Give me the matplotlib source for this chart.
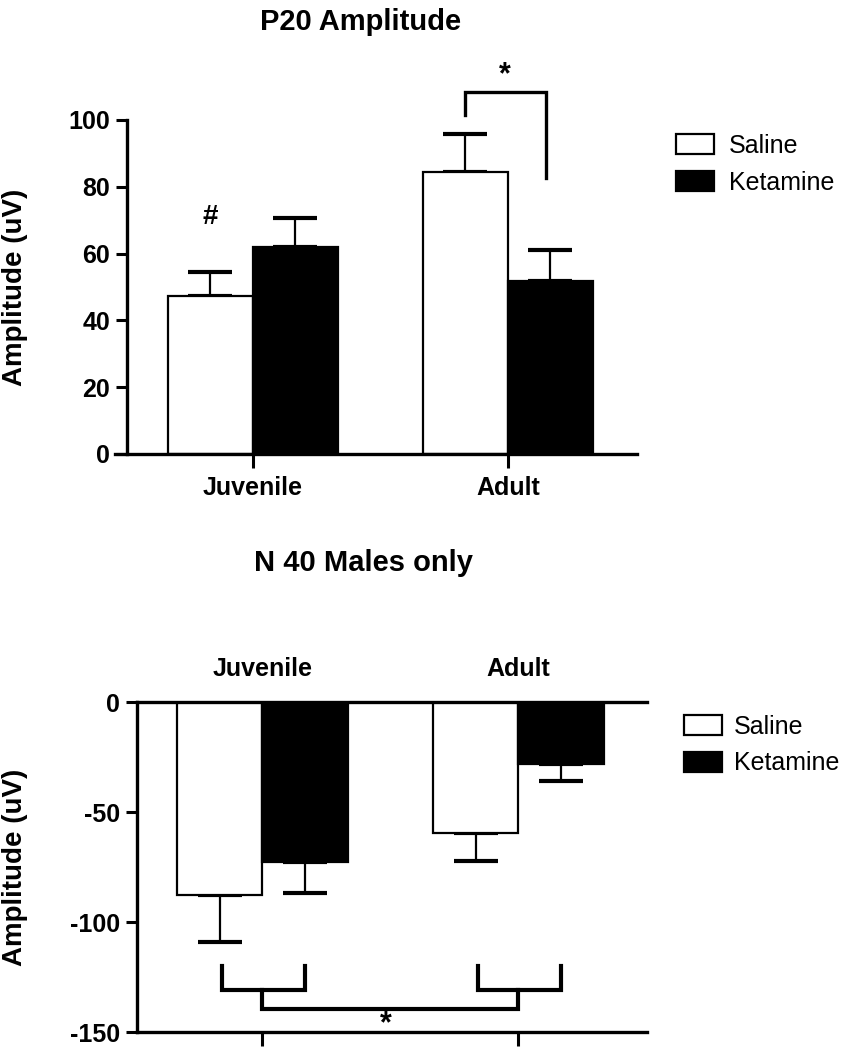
import matplotlib
matplotlib.use("Agg")
import matplotlib.pyplot as plt
from matplotlib.patches import Patch

plt.rcParams['font.family'] = ['Liberation Sans', 'DejaVu Sans']
plt.rcParams['axes.unicode_minus'] = False

# ---- data ----
groups = ["Juvenile", "Adult"]
treatments = ["Saline", "Ketamine"]
p20_mean = {"Saline": [47.3, 84.3], "Ketamine": [62.1, 51.8]}
p20_err = {"Saline": [7.3, 11.4], "Ketamine": [8.5, 9.3]}
n40_mean = {"Saline": [-87.5, -59.4], "Ketamine": [-72.9, -28.2]}
n40_err = {"Saline": [21.4, 12.8], "Ketamine": [13.8, 7.8]}
p20_yticks = [0, 20, 40, 60, 80, 100]
n40_yticks = [0, -50, -100, -150]

group_pos = [0, 3]
offsets = {"Saline": -0.5, "Ketamine": 0.5}
faces = {"Saline": "white", "Ketamine": "black"}

W, H = 847, 1050
fig = plt.figure(figsize=(W / 100, H / 100), dpi=100)

def fx(px):
    return px / W

def fy(py):
    return 1 - py / H

BOLD = dict(fontweight='bold')

def draw_bars(ax, means, errs, up):
    for t in treatments:
        xs = [g + offsets[t] for g in group_pos]
        ax.bar(xs, means[t], width=1.0, color=faces[t], edgecolor='black',
               linewidth=1.6, zorder=2)
        if up:
            yerr = [[0, 0], errs[t]]
        else:
            yerr = [errs[t], [0, 0]]
        ax.errorbar(xs, means[t], yerr=yerr, fmt='none', ecolor='black',
                    elinewidth=1.6, capsize=16, capthick=3, zorder=1)

# ================= Top chart =================
ax1 = fig.add_axes([fx(115), fy(454), fx(637) - fx(115), (454 - 120) / H])
draw_bars(ax1, p20_mean, p20_err, up=True)
ax1.set_xlim(-1.62, 4.52)
ax1.set_ylim(0, 100)
ax1.spines['top'].set_visible(False)
ax1.spines['right'].set_visible(False)
ax1.spines['left'].set_position(('data', -1.48))
for s in ['left', 'bottom']:
    ax1.spines[s].set_linewidth(2.4)
ax1.set_yticks(p20_yticks)
ax1.set_xticks(group_pos)
ax1.set_xticklabels(groups)
ax1.tick_params(axis='both', direction='out', length=8, width=2.2,
                labelsize=18, pad=4)
ax1.tick_params(axis='x', length=10, pad=6)
for lab in ax1.get_xticklabels() + ax1.get_yticklabels():
    lab.set_fontweight('bold')
ax1.set_ylabel("Amplitude (uV)", fontsize=20, fontweight='bold')
ax1.yaxis.set_label_coords((28 - 115) / (637 - 115), 0.5)

# significance marks
ax1.text(-0.5, 71, "#", ha='center', va='center', fontsize=20, **BOLD)
ax1.plot([2.5, 2.5, 3.45, 3.45], [101.5, 108.4, 108.4, 82.6], color='black',
         lw=2.4, clip_on=False, solid_joinstyle='miter')
ax1.text(2.97, 113.5, "*", ha='center', va='center', fontsize=22, **BOLD)

fig.text(fx(361), fy(22), "P20 Amplitude", ha='center', va='center',
         fontsize=21, **BOLD)

handles = [Patch(facecolor=faces[t], edgecolor='black', linewidth=1.6) for t in treatments]
fig.legend(handles, treatments, loc='upper left',
           bbox_to_anchor=(fx(666), fy(124)), frameon=False, fontsize=18,
           handlelength=1.5, handleheight=0.85, handletextpad=0.6,
           labelspacing=0.5, borderaxespad=0)

# ================= Bottom chart =================
ax2 = fig.add_axes([fx(137), fy(1032), fx(647) - fx(137), (1032 - 702) / H])
draw_bars(ax2, n40_mean, n40_err, up=False)
ax2.set_xlim(-1.47, 4.51)
ax2.set_ylim(-150, 0)
ax2.spines['right'].set_visible(False)
for s in ['left', 'bottom', 'top']:
    ax2.spines[s].set_linewidth(2.4)
ax2.set_yticks(n40_yticks)
ax2.set_xticks(group_pos)
ax2.set_xticklabels(["", ""])
ax2.tick_params(axis='both', direction='out', length=8, width=2.2,
                labelsize=18, pad=4)
ax2.tick_params(axis='x', length=10)
for lab in ax2.get_yticklabels():
    lab.set_fontweight('bold')
sec = ax2.secondary_xaxis('top')
sec.set_xticks(group_pos)
sec.set_xticklabels(groups)
sec.tick_params(axis='x', length=0, labelsize=18, pad=15)
for lab in sec.get_xticklabels():
    lab.set_fontweight('bold')
sec.spines['top'].set_visible(False)

ax2.set_ylabel("Amplitude (uV)", fontsize=20, fontweight='bold')
ax2.yaxis.set_label_coords((28 - 137) / (647 - 137), 0.5)

# brackets
for g in group_pos:
    ax2.plot([g - 0.47, g - 0.47, g + 0.5, g + 0.5], [-120, -131, -131, -120],
             color='black', lw=3, clip_on=False, solid_joinstyle='miter')
ax2.plot([group_pos[0], group_pos[0], group_pos[1], group_pos[1]],
         [-131, -139.7, -139.7, -131], color='black', lw=3, clip_on=False,
         solid_joinstyle='miter')
ax2.text(1.45, -146.5, "*", ha='center', va='center', fontsize=22, **BOLD)

fig.text(fx(363), fy(563), "N 40 Males only", ha='center', va='center',
         fontsize=21, **BOLD)

fig.legend(handles, treatments, loc='upper left',
           bbox_to_anchor=(fx(674), fy(705)), frameon=False, fontsize=18,
           handlelength=1.5, handleheight=0.85, handletextpad=0.5,
           labelspacing=0.5, borderaxespad=0)

fig.savefig("out.png", dpi=100)
